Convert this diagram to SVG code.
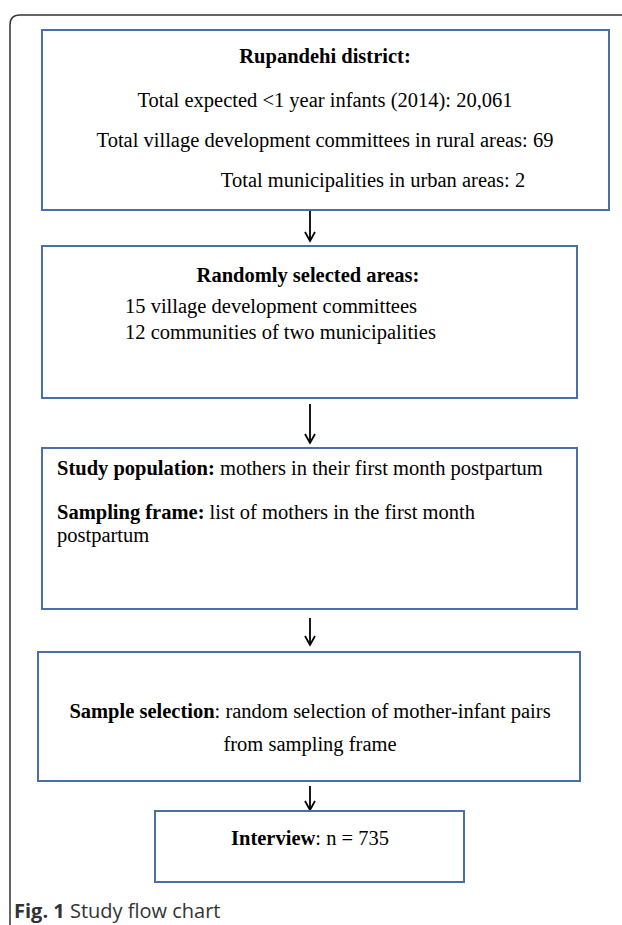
<svg xmlns="http://www.w3.org/2000/svg" width="622" height="925" viewBox="0 0 622 925">
<style>
.box{fill:#fff;stroke:#4a6ea6;stroke-width:2}
.t{font-family:"Liberation Serif",serif;font-size:20.5px;fill:#000}
.b{font-weight:bold}
.c{text-anchor:middle}
.conn{stroke:#000;stroke-width:1.8;fill:none}
</style>
<defs>
<marker id="ah" markerWidth="14" markerHeight="14" refX="11" refY="7" orient="auto" markerUnits="userSpaceOnUse" viewBox="0 0 14 14">
<path d="M2,2 L11,7 L2,12" fill="none" stroke="#000" stroke-width="1.8"/>
</marker>
</defs>
<rect width="622" height="925" fill="#fff"/>
<path d="M10,925 V25 Q10,15 20,15 H622" fill="none" stroke="#333" stroke-width="1.5"/>
<g id="connectors">
<line class="conn" x1="310" y1="211" x2="310" y2="241" marker-end="url(#ah)"/>
<line class="conn" x1="310" y1="404" x2="310" y2="443" marker-end="url(#ah)"/>
<line class="conn" x1="310" y1="618" x2="310" y2="645" marker-end="url(#ah)"/>
<line class="conn" x1="310" y1="786" x2="310" y2="810" marker-end="url(#ah)"/>
</g>
<g id="n1">
<rect class="box" x="42" y="30" width="567" height="180"/>
<text class="t b c" x="325" y="63">Rupandehi district:</text>
<text class="t c" x="325" y="107">Total expected &lt;1 year infants (2014): 20,061</text>
<text class="t c" x="325" y="147">Total village development committees in rural areas: 69</text>
<text class="t c" x="373" y="187">Total municipalities in urban areas: 2</text>
</g>
<g id="n2">
<rect class="box" x="42" y="246" width="535" height="152"/>
<text class="t b c" x="308" y="282">Randomly selected areas:</text>
<text class="t" x="125" y="313">15 village development committees</text>
<text class="t" x="125" y="339">12 communities of two municipalities</text>
</g>
<g id="n3">
<rect class="box" x="42" y="448" width="535" height="161"/>
<text class="t" x="57" y="475"><tspan class="b">Study population:</tspan> mothers in their first month postpartum</text>
<text class="t" x="57" y="519"><tspan class="b">Sampling frame:</tspan> list of mothers in the first month</text>
<text class="t" x="57" y="542">postpartum</text>
</g>
<g id="n4">
<rect class="box" x="38" y="652" width="542" height="129"/>
<text class="t c" x="310" y="718"><tspan class="b">Sample selection</tspan>: random selection of mother-infant pairs</text>
<text class="t c" x="310" y="751">from sampling frame</text>
</g>
<g id="n5">
<rect class="box" x="155" y="811" width="309" height="71"/>
<text class="t c" x="310" y="845"><tspan class="b">Interview</tspan>: n = 735</text>
</g>
<text x="14" y="918" font-family="'Open Sans','Noto Sans',sans-serif" font-size="20" fill="#333"><tspan font-weight="bold">Fig. 1</tspan> Study flow chart</text>
</svg>
